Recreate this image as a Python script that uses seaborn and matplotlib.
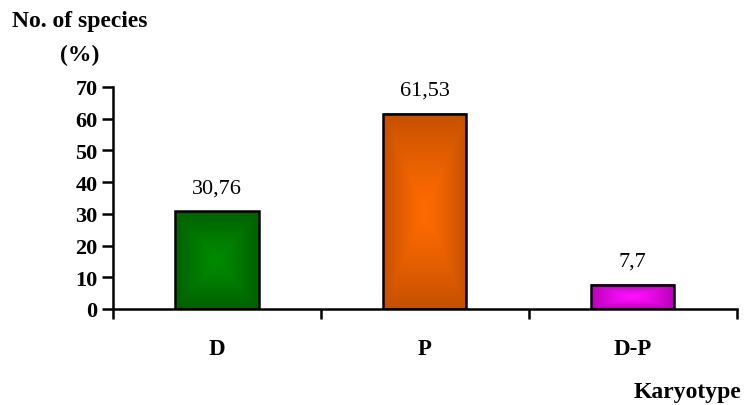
import numpy as np
import pandas as pd
import matplotlib
matplotlib.use("Agg")
import matplotlib.pyplot as plt
import seaborn as sns
from matplotlib.ticker import FixedLocator

# Karyotype distribution of species
categories = ["D", "P", "D-P"]
percentages = [30.76, 61.53, 7.7]
y_ticks = [0, 10, 20, 30, 40, 50, 60, 70]

# centre / edge colours of the shaded bar fills
center_colors = ["#008a00", "#ff6a00", "#ff10ff"]
edge_colors = ["#005f00", "#c45000", "#b800b8"]

sns.set_theme(style="white")
plt.rcParams["font.family"] = ["Liberation Serif", "DejaVu Serif"]
plt.rcParams.update({"text.color": "black", "xtick.color": "black",
                     "ytick.color": "black", "axes.labelcolor": "black"})

df = pd.DataFrame({"Karyotype": categories, "Percent": percentages})

fig = plt.figure(figsize=(7.45, 4.06), dpi=100)
ax = fig.add_axes([0.1517, 0.2365, 0.989 - 0.1517, 0.7833 - 0.2365])

sns.barplot(data=df, x="Karyotype", y="Percent", order=categories,
            width=0.40, color="white", edgecolor="black", linewidth=1.8,
            ax=ax, zorder=3)


def shaded(c0, c1, w=120, h=120):
    """Rectangular 'from centre' gradient between two colours."""
    a = np.array(matplotlib.colors.to_rgb(c0))
    b = np.array(matplotlib.colors.to_rgb(c1))
    xx = np.abs(np.linspace(-1, 1, w))[None, :]
    yy = np.abs(np.linspace(-1, 1, h))[:, None]
    t = np.maximum(xx, yy) ** 1.3
    return a * (1 - t[..., None]) + b * t[..., None]


for patch, c0, c1 in zip(ax.patches, center_colors, edge_colors):
    x0, y0 = patch.get_x(), patch.get_y()
    w, h = patch.get_width(), patch.get_height()
    ax.imshow(shaded(c0, c1), extent=[x0, x0 + w, y0, y0 + h],
              aspect="auto", zorder=2, interpolation="bilinear")
    patch.set_facecolor("none")

# value labels with decimal comma
for i, v in enumerate(percentages):
    ax.text(i, v + 6.0, f"{v:g}".replace(".", ","), ha="center", va="baseline",
            fontsize=16, color="black")

ax.set_xlim(-0.5, 2.5)
ax.set_ylim(0, 70)
ax.set_yticks(y_ticks)
ax.set_yticklabels([str(t) for t in y_ticks], fontsize=16, fontweight="bold",
                   color="black")
ax.set_xticks(range(len(categories)))
ax.set_xticklabels(categories, fontsize=16.5, fontweight="bold", color="black")
ax.xaxis.set_minor_locator(FixedLocator([-0.5, 0.5, 1.5, 2.5]))
ax.tick_params(axis="x", which="major", length=0, pad=21)
ax.tick_params(axis="x", which="minor", length=7, width=1.8, color="black",
               direction="out", bottom=True)
ax.tick_params(axis="y", which="major", length=8, width=1.8, color="black",
               direction="out", left=True, pad=3)
ax.set_xlabel("")
ax.set_ylabel("")

sns.despine(ax=ax)
for side in ("left", "bottom"):
    ax.spines[side].set_linewidth(1.8)
    ax.spines[side].set_color("black")

fig.text(80 / 745, 1 - 22 / 406, "No. of species", ha="center", va="center",
         fontsize=17, fontweight="bold", color="black")
fig.text(80 / 745, 1 - 55 / 406, "(%)", ha="center", va="center",
         fontsize=17, fontweight="bold", color="black")
fig.text(741 / 745, 1 - 393 / 406, "Karyotype", ha="right", va="center",
         fontsize=17, fontweight="bold", color="black")

fig.savefig("out.png", dpi=100)
